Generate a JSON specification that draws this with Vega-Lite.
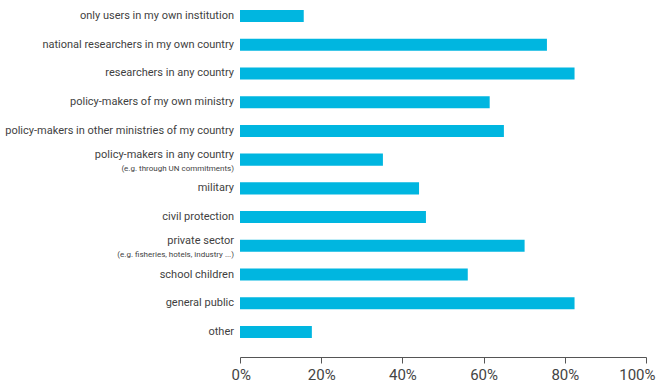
{
  "$schema": "https://vega.github.io/schema/vega-lite/v6.json",
  "autosize": {"type": "none"},
  "padding": {"left": 240, "top": 0, "right": 11, "bottom": 38},
  "width": 406,
  "height": 348,
  "config": {"view": {"stroke": null}, "font": "Roboto"},
  "data": {"values": [
    {"cat": "only users in my own institution", "sub": null, "value": 15.7},
    {"cat": "national researchers in my own country", "sub": null, "value": 75.6},
    {"cat": "researchers in any country", "sub": null, "value": 82.4},
    {"cat": "policy-makers of my own ministry", "sub": null, "value": 61.5},
    {"cat": "policy-makers in other ministries of my country", "sub": null, "value": 65.0},
    {"cat": "policy-makers in any country", "sub": "(e.g. through UN commitments)", "value": 35.2},
    {"cat": "military", "sub": null, "value": 44.1},
    {"cat": "civil protection", "sub": null, "value": 45.8},
    {"cat": "private sector", "sub": "(e.g. fisheries,  hotels, industry ...)", "value": 70.1},
    {"cat": "school children", "sub": null, "value": 56.1},
    {"cat": "general public", "sub": null, "value": 82.4},
    {"cat": "other", "sub": null, "value": 17.7}
  ]},
  "encoding": {
    "y": {"field": "cat", "type": "nominal", "sort": null, "axis": null,
          "scale": {"paddingInner": 0.58, "paddingOuter": 0.348}}
  },
  "layer": [
    {
      "mark": {"type": "bar", "color": "#00B6E0"},
      "encoding": {
        "x": {"field": "value", "type": "quantitative",
              "scale": {"domain": [0, 100], "nice": false},
              "axis": {"values": [0, 20, 40, 60, 80, 100], "labelExpr": "datum.value + '%'",
                       "title": null, "grid": false, "offset": 9,
                       "domainColor": "#555", "tickColor": "#555", "tickSize": 6,
                       "labelFontSize": 15, "labelColor": "#444", "labelFlush": true,
                       "labelFlushOffset": 9, "labelPadding": 4, "labelFont": "Roboto"}}
      }
    },
    {
      "transform": [{"filter": "datum.sub == null"}],
      "mark": {"type": "text", "align": "right", "baseline": "middle", "dx": -6, "fontSize": 11, "color": "#3f3f3f"},
      "encoding": {"x": {"datum": 0, "type": "quantitative"}, "text": {"field": "cat"}}
    },
    {
      "transform": [{"filter": "datum.sub != null"}],
      "mark": {"type": "text", "align": "right", "baseline": "middle", "dx": -6, "dy": -5, "fontSize": 11, "color": "#3f3f3f"},
      "encoding": {"x": {"datum": 0, "type": "quantitative"}, "text": {"field": "cat"}}
    },
    {
      "transform": [{"filter": "datum.sub != null"}],
      "mark": {"type": "text", "align": "right", "baseline": "middle", "dx": -6, "dy": 9.5, "fontSize": 8, "color": "#3f3f3f"},
      "encoding": {"x": {"datum": 0, "type": "quantitative"}, "text": {"field": "sub"}}
    }
  ]
}
